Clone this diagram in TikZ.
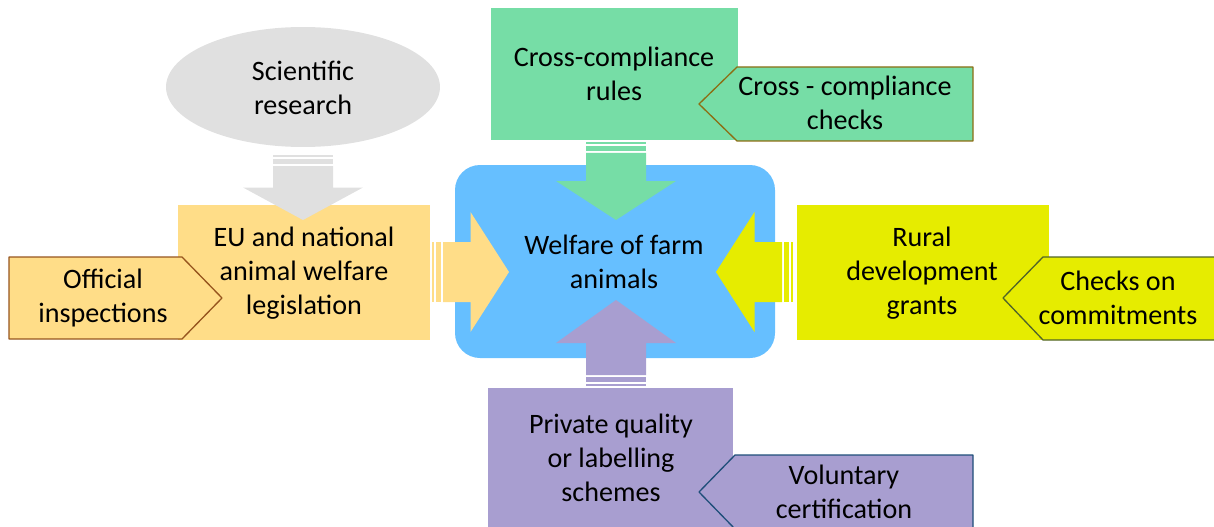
\documentclass[tikz,border=0pt]{standalone}
\usepackage{fontspec}
\setmainfont{Carlito}
\usepackage{tikz}
\usetikzlibrary{calc, positioning, shapes.geometric, arrows.meta}
\usepackage{tkz-euclide}

\definecolor{bluebg}{RGB}{102,191,255}
\definecolor{greybox}{RGB}{224,224,224}
\definecolor{yellowbox}{RGB}{255,221,136}
\definecolor{greenbox}{RGB}{118,221,166}
\definecolor{limebox}{RGB}{230,236,0}
\definecolor{purplebox}{RGB}{168,158,208}
\definecolor{brownline}{RGB}{150,85,30}
\definecolor{oliveline}{RGB}{140,110,20}
\definecolor{leafline}{RGB}{80,100,40}
\definecolor{navyline}{RGB}{31,78,121}

\tikzset{
  txt/.style={align=center, font=\fontsize{16}{19.3}\selectfont, inner sep=0pt},
  tag/.style={line width=0.75pt},
  striparrow/.pic={
    \fill (0,-30) rectangle (2,30);
    \fill (4,-30) rectangle (9,30);
    \fill (11,-30) -- (#1/2,-30) -- (#1/2,-60) -- (#1,0) -- (#1/2,60)
      -- (#1/2,30) -- (11,30) -- cycle;
  }
}

\begin{document}
\begin{tikzpicture}[x=0.02cm, y=-0.02cm]
\useasboundingbox (0,0) rectangle (1214,527);

% centre
\fill[bluebg, rounded corners=0.5cm] (455,165) rectangle (775,358);
\node[txt] (welfare) at (614,262) {Welfare of farm\\animals};

% boxes round the centre
\node[ellipse, fill=greybox, minimum width=5.48cm, minimum height=2.4cm]
  (researchbg) at (303,87) {};
\node[txt] (research) at (303,88) {Scientific\\research};
\fill[yellowbox] (178,205) rectangle (430,340);
\node[txt] (legislation) at (304,273) {EU and national\\animal welfare\\legislation};
\fill[greenbox] (491,8) rectangle (738,140);
\node[txt] (ccrules) at (614,74) {Cross-compliance\\rules};
\fill[limebox] (797,205) rectangle (1049,340);
\node[txt] (grants) at (922,273) {Rural\\development\\grants};
\fill[purplebox] (488,388) rectangle (733,540);
\node[txt] (schemes) at (611,458) {Private quality\\or labelling\\schemes};

% arrows
\pic[fill=greybox, rotate=-90] at (303,155) {striparrow=65};
\pic[fill=greenbox, rotate=-90] at (616,142) {striparrow=78};
\pic[fill=purplebox, rotate=90] at (616,386) {striparrow=86};
\pic[fill=yellowbox] at (432,272) {striparrow=77};
\pic[fill=limebox, rotate=180] at (793,272) {striparrow=77};

% tags
\tkzDefPoints{9/257/O1, 182/257/O2, 222/298/O3, 182/339/O4, 9/339/O5}
\tkzDrawPolygon[tag, draw=brownline, fill=yellowbox](O1,O2,O3,O4,O5)
\node[txt] (inspections) at (103,298) {Official\\inspections};

\tkzDefPoints{973/67/C1, 737/67/C2, 699/104/C3, 737/141/C4, 973/141/C5}
\tkzDrawPolygon[tag, draw=oliveline, fill=greenbox](C1,C2,C3,C4,C5)
\node[txt] (ccchecks) at (845,103) {Cross - compliance\\checks};

\tkzDefPoints{1225/257/R1, 1043/257/R2, 1003/298/R3, 1043/340/R4, 1225/340/R5}
\tkzDrawPolygon[tag, draw=leafline, fill=limebox](R1,R2,R3,R4,R5)
\node[txt] (commitments) at (1118,298) {Checks on\\commitments};

\tkzDefPoints{973/455/V1, 735/455/V2, 699/492/V3, 735/529/V4, 973/529/V5}
\tkzDrawPolygon[tag, draw=navyline, fill=purplebox](V1,V2,V3,V4,V5)
\node[txt] (voluntary) at (844,492) {Voluntary\\certification};
\end{tikzpicture}
\end{document}
